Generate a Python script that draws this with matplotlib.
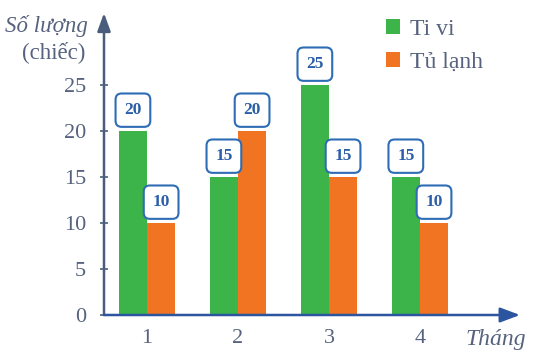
import matplotlib
matplotlib.use("Agg")
import matplotlib.pyplot as plt
import numpy as np

months = ["1", "2", "3", "4"]
tivi = [20, 15, 25, 15]
tulanh = [10, 20, 15, 10]
series_names = ["Ti vi", "Tủ lạnh"]

GREEN = "#3cb44a"
ORANGE = "#f07422"
TXT = "#56627e"
YAX = "#4a5d7c"
XAX = "#2c55a0"
LBL = "#2a5ea8"
SERIF = ["Liberation Serif", "DejaVu Serif"]

fig = plt.figure(figsize=(5.5, 3.59), dpi=100)
ax = fig.add_axes([104/550, 1-315/359, (520-104)/550, (315-13)/359])
ax.set_xlim(0.527, 5.10)
ax.set_ylim(0, (315-13)/9.2)

x = np.arange(1, len(months)+1)
w = 0.31
b1 = ax.bar(x - w/2, tivi, w, color=GREEN, label=series_names[0], zorder=2)
b2 = ax.bar(x + w/2, tulanh, w, color=ORANGE, label=series_names[1], zorder=2)

for bars, vals in ((b1, tivi), (b2, tulanh)):
    for r, v in zip(bars, vals):
        ax.annotate(str(v), (r.get_x() + r.get_width()/2, v),
                    xytext=(0, 15), textcoords="offset points",
                    ha="center", va="center", fontsize=12.5, fontweight="bold",
                    family=SERIF, color=LBL, zorder=5,
                    bbox=dict(boxstyle="round,pad=0.5,rounding_size=0.35",
                              fc="white", ec="#2e6db5", lw=1.5))

for s in ax.spines.values():
    s.set_visible(False)

# axes with arrows
ax.annotate("", xy=(0, 1), xytext=(0, 0), xycoords="axes fraction",
            arrowprops=dict(arrowstyle="-|>,head_length=1.1,head_width=0.4",
                            mutation_scale=10, color=YAX, lw=1.8,
                            shrinkA=0, shrinkB=0), annotation_clip=False, zorder=4)
ax.annotate("", xy=(1, 0), xytext=(0, 0), xycoords="axes fraction",
            arrowprops=dict(arrowstyle="-|>,head_length=1.2,head_width=0.45",
                            mutation_scale=10, color=XAX, lw=1.8,
                            shrinkA=0, shrinkB=0), annotation_clip=False, zorder=4)

ax.set_yticks([0, 5, 10, 15, 20, 25])
ax.tick_params(axis="y", direction="inout", length=6, width=1.2, color=YAX,
               labelcolor=TXT, labelsize=16, pad=10)
ax.set_xticks(x)
ax.set_xticklabels(months)
ax.tick_params(axis="x", length=0, labelcolor=TXT, labelsize=16, pad=10)
for lab in ax.get_xticklabels() + ax.get_yticklabels():
    lab.set_family(SERIF)

fig.text(496/550, 1-340/359, "Tháng", ha="center", va="center", fontsize=17,
         style="italic", family=SERIF, color=TXT)
fig.text(46/550, 1-26/359, "Số lượng", ha="center", va="center", fontsize=16.5,
         style="italic", family=SERIF, color=TXT)
fig.text(54/550, 1-52/359, "(chiếc)", ha="center", va="center", fontsize=16.5,
         family=SERIF, color=TXT)

leg = ax.legend(loc="upper left", bbox_to_anchor=(386/550, 1-19/359),
                bbox_transform=fig.transFigure, frameon=False,
                prop=dict(family=SERIF, size=17), labelcolor=TXT,
                handlelength=0.6, handleheight=0.6, handletextpad=0.4,
                labelspacing=0.5, borderpad=0, borderaxespad=0)

fig.savefig("out.png", dpi=100, facecolor="white")
